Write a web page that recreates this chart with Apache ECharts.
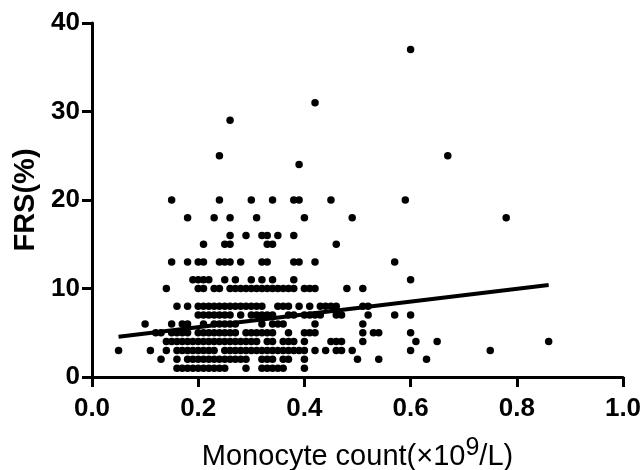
<!DOCTYPE html>
<html><head><meta charset="utf-8">
<style>html,body{margin:0;padding:0;background:#fff}#c{width:644px;height:470px}</style>
<script src="https://cdn.jsdelivr.net/npm/echarts@6/dist/echarts.min.js"></script></head>
<body><div id="c"></div>
<script>
const xTicks=[0,0.2,0.4,0.6,0.8,1.0];
const yTicks=[0,10,20,30,40];
const row1=[16,17,18,19,20,21,22,23,24,25,29,32,33,34,35,36,40];
const row2=[13,16,18,19,20,21,22,23,24,25,26,27,28,29,32,33,34,36,37,40,50,54,63];
const row3=[5,11,14,16,17,18,19,20,21,22,23,25,26,27,28,29,30,31,32,33,34,35,36,37,38,39,40,42,44,46,47,49,60,75];
const row4=[14,15,16,17,18,19,20,21,22,23,24,25,26,27,28,29,30,31,33,34,36,37,38,40,45,46,47,51,61,65,86];
const row5=[12,13,15,16,17,18,20,21,22,23,24,25,26,27,29,30,31,32,33,34,37,40,41,42,51,53,54,60];
const row6=[10,15,17,18,21,23,24,25,26,27,32,34,35,36,42,51];
const row7=[20,21,22,23,24,25,26,28,30,31,32,33,34,37,38,40,41,42,43,46,47,52,57,60];
const row8=[16,18,20,21,22,23,24,25,26,27,28,29,30,31,32,35,36,37,39,41,43,44,45,46,51,52];
const row10=[14,20,21,23,24,26,27,28,29,30,31,32,33,34,35,36,37,38,40,41,42,48,51];
const row11=[19,20,21,22,25,27,30,32,34,38,60];
const row13=[15,18,20,21,24,25,26,28,32,33,38,39,42,57];
const row15=[21,25,26,33,34,46];
const row16=[26,29,32,33,35,38];
const row18=[18,23,26,31,40,49,78];
const row20=[15,24,30,34,38,39,45,59];
const row24=[39];
const row25=[24,67];
const row29=[26];
const row31=[42];
const row37=[60];
const rows=[[1,row1],[2,row2],[3,row3],[4,row4],[5,row5],[6,row6],[7,row7],[8,row8],[10,row10],[11,row11],[13,row13],[15,row15],[16,row16],[18,row18],[20,row20],[24,row24],[25,row25],[29,row29],[31,row31],[37,row37]];
const trendLine=[[0.05,4.55],[0.86,10.4]];
const points=[];
rows.forEach(([y,xs])=>xs.forEach(x=>points.push([x/100,y])));
const font='"Liberation Sans",Arial,sans-serif';
const chart=echarts.init(document.getElementById('c'),null,{renderer:'canvas'});
chart.setOption({
 animation:false,backgroundColor:'#fff',
 grid:{left:92,right:21,top:23,bottom:93,containLabel:false,outerBoundsMode:'none'},
 xAxis:{type:'value',min:0,max:1,interval:0.2,splitLine:{show:false},
  axisLine:{onZero:false,lineStyle:{color:'#000',width:3}},
  axisTick:{length:10,lineStyle:{color:'#000',width:3}},
  axisLabel:{color:'#000',fontFamily:font,fontWeight:'bold',fontSize:26,margin:19,formatter:v=>v.toFixed(1),showMinLabel:true,showMaxLabel:true},
  name:'{a|Monocyte count(×10}{s|9}{a|/L)}',nameLocation:'middle',nameGap:64,
  nameTextStyle:{rich:{a:{fontFamily:font,fontSize:29,color:'#000',lineHeight:32},s:{fontFamily:font,fontSize:25,color:'#000',lineHeight:32,padding:[0,0,18,0]}}}},
 yAxis:{type:'value',min:0,max:40,interval:10,splitLine:{show:false},
  axisLine:{onZero:false,lineStyle:{color:'#000',width:3}},
  axisTick:{length:10,lineStyle:{color:'#000',width:3}},
  axisLabel:{color:'#000',fontFamily:font,fontWeight:'bold',fontSize:26,margin:12},
  name:'FRS(%)',nameLocation:'middle',nameGap:52,
  nameTextStyle:{fontFamily:font,fontWeight:'bold',fontSize:29,color:'#000'}},
 series:[
  {type:'scatter',data:points,symbol:'circle',symbolSize:7.5,itemStyle:{color:'#000',opacity:1},silent:true},
  {type:'line',data:trendLine,showSymbol:false,lineStyle:{color:'#000',width:4},silent:true,z:3}
 ]
});
</script></body></html>
